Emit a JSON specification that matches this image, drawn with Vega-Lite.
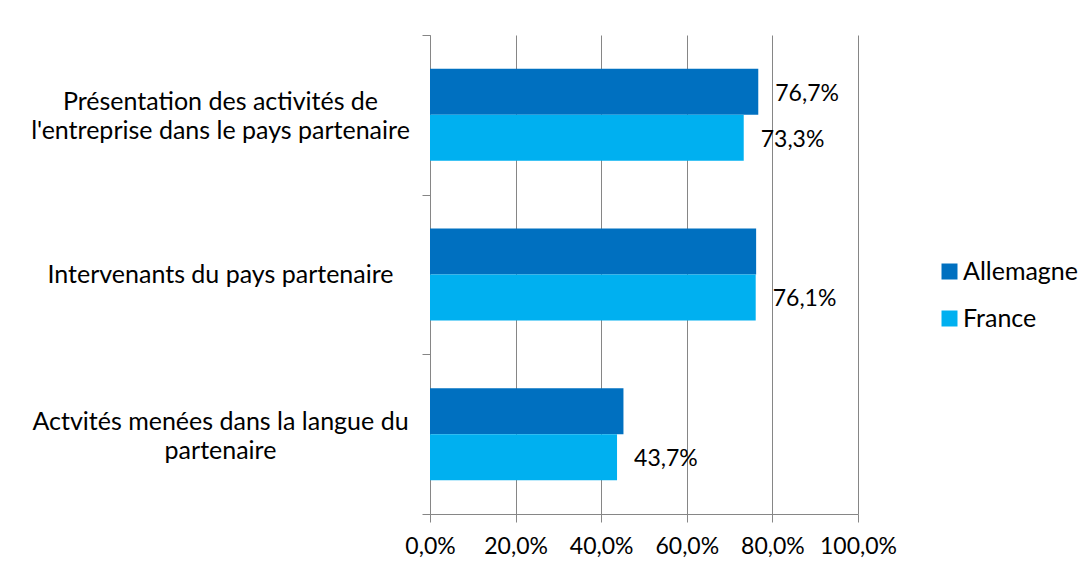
{
  "$schema": "https://vega.github.io/schema/vega-lite/v6.json",
  "width": 428,
  "height": 479,
  "autosize": {"type": "none"},
  "padding": {"left": 430, "top": 35, "right": 233, "bottom": 63},
  "background": "white",
  "config": {
    "locale": {"number": {"decimal": ",", "thousands": " ", "grouping": [3], "currency": ["", " €"]}},
    "view": {"stroke": null},
    "font": "Lato",
    "text": {"font": "Lato"}
  },
  "data": {
    "values": [
      {"category": "Présentation des activités de|l'entreprise dans le pays partenaire", "pays": "Allemagne", "value": 0.767, "label": "76,7%"},
      {"category": "Présentation des activités de|l'entreprise dans le pays partenaire", "pays": "France", "value": 0.733, "label": "73,3%"},
      {"category": "Intervenants du pays partenaire", "pays": "Allemagne", "value": 0.762, "label": ""},
      {"category": "Intervenants du pays partenaire", "pays": "France", "value": 0.761, "label": "76,1%"},
      {"category": "Actvités menées dans la langue du|partenaire", "pays": "Allemagne", "value": 0.452, "label": ""},
      {"category": "Actvités menées dans la langue du|partenaire", "pays": "France", "value": 0.437, "label": "43,7%"}
    ]
  },
  "encoding": {
    "y": {
      "field": "category",
      "type": "nominal",
      "sort": [
        "Présentation des activités de|l'entreprise dans le pays partenaire",
        "Intervenants du pays partenaire",
        "Actvités menées dans la langue du|partenaire"
      ],
      "scale": {"paddingInner": 0, "paddingOuter": 0},
      "axis": {
        "title": null,
        "grid": false,
        "tickBand": "extent",
        "domainColor": "#868686",
        "tickColor": "#868686",
        "tickSize": 8,
        "labelAlign": "center",
        "labelBaseline": {"condition": {"test": "indexof('' + datum.value, '|') >= 0", "value": "bottom"}, "value": "middle"},
        "labelPadding": 202,
        "labelFont": "Lato",
        "labelFontSize": 25,
        "labelColor": "#000000",
        "labelLineHeight": 29,
        "labelLimit": 600,
        "labelExpr": "split(datum.label, '|')"
      }
    },
    "yOffset": {
      "field": "pays",
      "type": "nominal",
      "sort": ["Allemagne", "France"],
      "scale": {"paddingInner": 0, "paddingOuter": 0.736}
    },
    "x": {
      "field": "value",
      "type": "quantitative",
      "scale": {"domain": [0, 1]},
      "axis": {
        "title": null,
        "values": [0, 0.2, 0.4, 0.6, 0.8, 1],
        "format": ".1%",
        "grid": true,
        "gridColor": "#868686",
        "domainColor": "#868686",
        "tickColor": "#868686",
        "tickSize": 8,
        "labelPadding": 13,
        "labelFont": "Lato",
        "labelFontSize": 23,
        "labelColor": "#000000",
        "labelFlush": false
      }
    }
  },
  "layer": [
    {
      "mark": {"type": "bar"},
      "encoding": {
        "color": {
          "field": "pays",
          "type": "nominal",
          "scale": {"domain": ["Allemagne", "France"], "range": ["#0070C0", "#00B0F0"]},
          "legend": {
            "title": null,
            "orient": "none",
            "legendX": 507,
            "legendY": 224,
            "symbolType": "square",
            "symbolSize": 256,
            "symbolStrokeWidth": 0,
            "symbolOpacity": 1,
            "labelFont": "Lato",
            "labelFontSize": 25,
            "labelColor": "#000000",
            "labelOffset": 1,
            "rowPadding": 21
          }
        }
      }
    },
    {
      "mark": {"type": "text", "align": "left", "baseline": "middle", "dx": 17, "dy": 2, "fontSize": 23, "color": "#000000"},
      "encoding": {"text": {"field": "label"}}
    }
  ]
}
